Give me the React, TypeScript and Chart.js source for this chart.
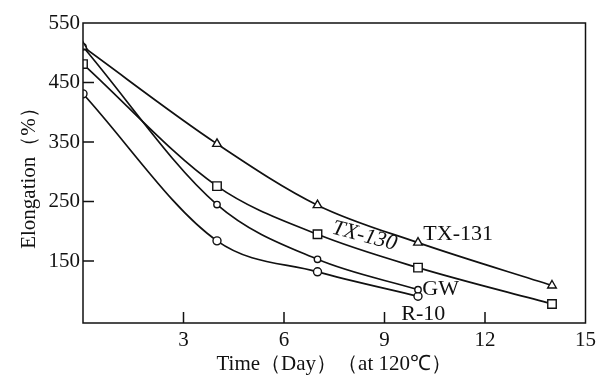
import React, { useEffect, useRef } from 'react';
import { Chart, registerables } from 'chart.js';
Chart.register(...registerables);

const days = [0, 4, 7, 10, 14];
const tx131 = [510, 347, 244, 181, 109];
const tx130 = [481, 276, 195, 139, 78];
const shortDays = [0, 4, 7, 10];
const gw = [510, 245, 153, 102];
const r10 = [431, 184, 132, 91];
const xTicks = [3, 6, 9, 12, 15];
const yTicks = [150, 250, 350, 450, 550];
const seriesNames = ['TX-131', 'TX-130', 'GW', 'R-10'];

const FONT = '"Liberation Serif", "Times New Roman", serif';

// series label annotations (data coordinates)
const labelDefs = [
  { text: 'TX-131', x: 10.16, y: 195, align: 'left', italic: false, rot: 0 },
  { text: 'TX-130', x: 8.4, y: 192, align: 'center', italic: true, rot: 15 },
  { text: 'GW', x: 10.13, y: 103, align: 'left', italic: false, rot: 0 },
  { text: 'R-10', x: 9.5, y: 60, align: 'left', italic: false, rot: 0 },
];

const framePlugin = {
  id: 'frame',
  afterDatasetsDraw(chart: any) {
    const { ctx, chartArea: a, scales } = chart;
    ctx.save();
    ctx.strokeStyle = '#111';
    ctx.lineWidth = 1.5;
    ctx.strokeRect(a.left, a.top, a.right - a.left, a.bottom - a.top);
    ctx.lineWidth = 1.5;
    ctx.beginPath();
    yTicks.forEach((v) => {
      if (v >= 550) return;
      const py = scales.y.getPixelForValue(v);
      ctx.moveTo(a.left, py);
      ctx.lineTo(a.left + 11, py);
    });
    xTicks.forEach((v) => {
      if (v >= 15) return;
      const px = scales.x.getPixelForValue(v);
      ctx.moveTo(px, a.bottom);
      ctx.lineTo(px, a.bottom - 11);
    });
    ctx.stroke();
    ctx.fillStyle = '#111';
    labelDefs.forEach((l) => {
      const px = scales.x.getPixelForValue(l.x);
      const py = scales.y.getPixelForValue(l.y);
      ctx.save();
      ctx.translate(px, py);
      ctx.rotate((l.rot * Math.PI) / 180);
      ctx.font = `${l.italic ? 'italic ' : ''}22px ${FONT}`;
      ctx.textAlign = l.align;
      ctx.textBaseline = 'middle';
      ctx.fillText(l.text, 0, 0);
      ctx.restore();
    });
    ctx.restore();
  },
};

function mk(label: string, xs: number[], ys: number[], style: string, radius: number) {
  return {
    label,
    data: xs.map((x, i) => ({ x, y: ys[i] })),
    borderColor: '#111',
    borderWidth: 1.7,
    pointStyle: style,
    pointRadius: radius,
    pointBackgroundColor: '#fff',
    pointBorderColor: '#111',
    pointBorderWidth: 1.4,
    cubicInterpolationMode: 'monotone',
    fill: false,
  };
}

export default function App() {
  const ref = useRef<HTMLCanvasElement>(null);
  useEffect(() => {
    const chart = new Chart(ref.current!, {
      type: 'line',
      data: {
        datasets: [
          mk(seriesNames[0], days, tx131, 'triangle', 5),
          mk(seriesNames[1], days, tx130, 'rect', 6),
          mk(seriesNames[2], shortDays, gw, 'circle', 3.2),
          mk(seriesNames[3], shortDays, r10, 'circle', 4),
        ] as any,
      },
      options: {
        animation: false,
        responsive: false,
        maintainAspectRatio: false,
        layout: { padding: { left: 14, right: 13, top: 23, bottom: 5 } },
        plugins: { legend: { display: false }, tooltip: { enabled: false } },
        scales: {
          x: {
            type: 'linear',
            min: 0,
            max: 15,
            grid: { display: false, drawTicks: false },
            border: { display: false },
            afterBuildTicks: (s: any) => {
              s.ticks = xTicks.map((v) => ({ value: v }));
            },
            afterFit: (s: any) => {
              s.height = 55;
            },
            ticks: { color: '#111', font: { family: FONT, size: 21 }, padding: 5 },
            title: {
              display: true,
              text: 'Time（Day）（at 120℃）',
              color: '#111',
              font: { family: FONT, size: 21 },
              padding: { top: 0, bottom: 1 },
            },
          },
          y: {
            type: 'linear',
            min: 46,
            max: 550,
            grid: { display: false, drawTicks: false },
            border: { display: false },
            afterBuildTicks: (s: any) => {
              s.ticks = yTicks.map((v) => ({ value: v }));
            },
            afterFit: (s: any) => {
              s.width = 69;
            },
            ticks: { color: '#111', font: { family: FONT, size: 21 }, padding: 3 },
            title: {
              display: true,
              text: 'Elongation（%）',
              color: '#111',
              font: { family: FONT, size: 21 },
              padding: { top: 3, bottom: 0 },
            },
          },
        },
      },
      plugins: [framePlugin],
    } as any);
    return () => chart.destroy();
  }, []);
  return (
    <div style={{ position: 'fixed', left: 0, top: 0, width: 601, height: 383, background: '#fff' }}>
      <canvas ref={ref} width={601} height={383} style={{ width: 601, height: 383 }} />
    </div>
  );
}
